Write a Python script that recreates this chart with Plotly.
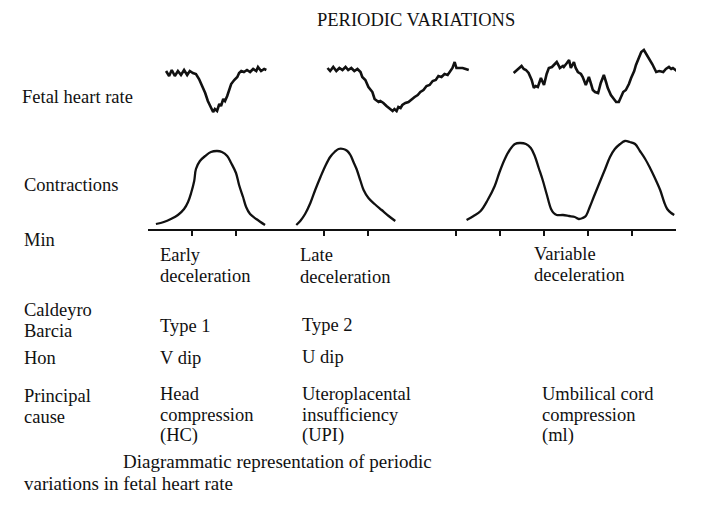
import plotly.graph_objects as go

# ---- data: time in minutes, fetal heart rate in bpm, contraction pressure (relative) ----
early_t = [0.41, 0.48, 0.54, 0.61, 0.68, 0.75, 0.82, 0.89, 0.95, 1.02, 1.09, 1.16, 1.23, 1.30,
           1.36, 1.43, 1.48, 1.52, 1.57, 1.62, 1.66, 1.71, 1.75, 1.80, 1.84, 1.89, 1.96, 2.03,
           2.07, 2.12, 2.18, 2.25, 2.32, 2.39, 2.46, 2.50, 2.57, 2.64, 2.69]
early_fhr = [139, 134, 140, 134, 139, 135, 140, 135, 139, 137, 136, 131, 124, 117,
             109, 102, 98, 101, 99, 106, 104, 111, 109, 114, 120, 126, 130, 133,
             137, 139, 138, 140, 138, 141, 139, 143, 139, 141, 140]

late_t = [4.08, 4.14, 4.21, 4.28, 4.35, 4.42, 4.49, 4.55, 4.62, 4.69, 4.76, 4.83, 4.87, 4.94,
          5.01, 5.06, 5.10, 5.15, 5.19, 5.24, 5.28, 5.35, 5.42, 5.47, 5.51, 5.56, 5.60, 5.65,
          5.69, 5.74, 5.78, 5.85, 5.92, 5.99, 6.06, 6.13, 6.19, 6.26, 6.33, 6.40, 6.47, 6.54,
          6.60, 6.67, 6.74, 6.81, 6.88, 6.92, 6.97, 7.01, 7.08, 7.15, 7.22, 7.29]
late_fhr = [142, 139, 143, 139, 142, 140, 143, 140, 142, 139, 141, 138, 133, 130,
            123, 120, 118, 111, 110, 108, 109, 107, 104, 102, 101, 99, 101, 99,
            103, 102, 105, 107, 108, 111, 113, 115, 118, 120, 124, 125, 129, 130,
            134, 133, 136, 135, 139, 142, 148, 142, 142, 142, 141, 140]

variable_t = [8.31, 8.38, 8.43, 8.49, 8.54, 8.59, 8.65, 8.72, 8.77, 8.81, 8.86, 8.93, 8.97, 9.00,
              9.06, 9.11, 9.18, 9.25, 9.29, 9.34, 9.36, 9.43, 9.45, 9.52, 9.57, 9.61, 9.66, 9.68,
              9.72, 9.77, 9.84, 9.88, 9.95, 10.02, 10.07, 10.11, 10.16, 10.23, 10.29, 10.36, 10.41,
              10.45, 10.52, 10.57, 10.64, 10.70, 10.75, 10.80, 10.86, 10.93, 10.98, 11.05, 11.09,
              11.16, 11.21, 11.27, 11.34, 11.39, 11.46, 11.55, 11.62, 11.71, 11.77, 11.84, 11.89,
              11.93, 12.05]
variable_fhr = [137, 140, 142, 144, 141, 140, 137, 130, 122, 124, 123, 132, 128, 125,
                136, 142, 143, 146, 148, 144, 142, 144, 143, 147, 150, 142, 146, 148,
                142, 138, 136, 133, 125, 133, 126, 120, 118, 117, 127, 135, 128,
                122, 115, 112, 108, 108, 114, 118, 120, 126, 132, 139, 145,
                153, 158, 160, 155, 152, 146, 138, 139, 138, 141, 143, 141,
                142, 138]

c1_t = [0.18, 0.36, 0.52, 0.68, 0.82, 0.91, 0.98, 1.05, 1.09, 1.18, 1.30, 1.43, 1.57, 1.68,
        1.80, 1.89, 2.00, 2.07, 2.16, 2.23, 2.32, 2.46, 2.66]
c1_p = [5, 7, 10, 14, 20, 27, 36, 48, 60, 68, 73, 77, 78, 77,
        73, 66, 56, 44, 32, 22, 15, 10, 4]

c2_t = [3.37, 3.46, 3.57, 3.69, 3.80, 3.92, 4.03, 4.14, 4.24, 4.33, 4.44, 4.53, 4.60, 4.67,
        4.74, 4.83, 4.90, 5.01, 5.15, 5.31, 5.47, 5.62]
c2_p = [4, 8, 15, 26, 39, 52, 63, 72, 77, 80, 80, 78, 74, 67,
        60, 48, 39, 31, 25, 19, 13, 8]

c3_t = [7.24, 7.40, 7.56, 7.72, 7.88, 7.99, 8.11, 8.22, 8.34, 8.45, 8.59, 8.70, 8.79, 8.88,
        8.97, 9.06, 9.16, 9.22, 9.29, 9.43, 9.57, 9.70, 9.79, 9.88, 9.95, 10.04, 10.13, 10.25,
        10.39, 10.50, 10.61, 10.73, 10.84, 10.95, 11.07, 11.18, 11.30, 11.41, 11.52, 11.64,
        11.73, 11.80, 11.89, 11.96]
c3_p = [9, 13, 18, 29, 43, 57, 70, 79, 85, 86, 85, 81, 73, 61,
        49, 35, 20, 16, 14, 14, 13, 12, 10, 11, 13, 22, 32, 45,
        60, 72, 80, 85, 88, 87, 85, 78, 70, 61, 51, 39,
        27, 20, 16, 14]

minute_ticks = [1, 2, 4, 5, 7, 8, 9, 10, 11]
time_range = [0, 12]

title_text = "PERIODIC VARIATIONS"
row_labels = ["Fetal heart rate", "Contractions", "Min", "Caldeyro", "Barcia", "Hon",
              "Principal", "cause"]
early_labels = ["Early", "deceleration", "Type 1", "V dip", "Head", "compression", "(HC)"]
late_labels = ["Late", "deceleration", "Type 2", "U dip", "Uteroplacental", "insufficiency", "(UPI)"]
variable_labels = ["Variable", "deceleration", "Umbilical cord", "compression", "(ml)"]
caption = ["Diagrammatic representation of periodic", "variations in fetal heart rate"]

# the page body keeps its default 8px margin, so the figure is drawn 8px in
OFF = 8
W, H = 708 - OFF, 506 - OFF
INK = "#111111"
FONT = "Liberation Serif"
SIZE = 18.5

fig = go.Figure()

for t, v in [(early_t, early_fhr), (late_t, late_fhr), (variable_t, variable_fhr)]:
    fig.add_trace(go.Scatter(x=t, y=v, mode="lines", xaxis="x", yaxis="y",
                             line=dict(color=INK, width=2.6), hoverinfo="skip"))

for t, v in [(c1_t, c1_p), (c2_t, c2_p), (c3_t, c3_p)]:
    fig.add_trace(go.Scatter(x=t, y=v, mode="lines", xaxis="x", yaxis="y2",
                             line=dict(color=INK, width=2.3, shape="spline"), hoverinfo="skip"))


def px(x):
    return (x - OFF) / W


def py(y):
    return 1 - (y - OFF) / H


annos = []


def label(text, x, y, size=SIZE, anchor="left"):
    annos.append(dict(text=text, x=px(x), y=py(y), xref="paper", yref="paper",
                      xanchor=anchor, yanchor="middle", showarrow=False,
                      font=dict(family=FONT, size=size, color=INK)))


label(title_text, 416, 20, size=18.5, anchor="center")

row_pos = [(20, 97), (22, 185), (22, 240), (22, 309.5), (22, 330.5), (22, 358),
           (22, 395.5), (22, 416.5)]
for txt, (x, y) in zip(row_labels, row_pos):
    label(txt, x, y)

early_pos = [(158, 255), (158, 276), (158, 326), (158, 358), (158, 393.5), (158, 414.5), (158, 435.5)]
for txt, (x, y) in zip(early_labels, early_pos):
    label(txt, x, y)

late_pos = [(298, 255.5), (298, 276.5), (300, 325), (300, 357), (300, 393.5), (300, 414.5),
            (300, 435.5)]
for txt, (x, y) in zip(late_labels, late_pos):
    label(txt, x, y)

var_pos = [(532, 254), (532, 275), (540, 393.5), (540, 414.5), (540, 435.5)]
for txt, (x, y) in zip(variable_labels, var_pos):
    label(txt, x, y)

label(caption[0], 121, 461, size=19)
label(caption[1], 22, 483, size=19)

fig.update_layout(
    width=W, height=H, autosize=False,
    margin=dict(l=0, r=0, t=0, b=0),
    paper_bgcolor="white", plot_bgcolor="white",
    showlegend=False,
    annotations=annos,
    xaxis=dict(domain=[px(148), px(676)], range=time_range, anchor="y2",
               showgrid=False, zeroline=False, showticklabels=False,
               showline=True, linecolor=INK, linewidth=2,
               tickvals=minute_ticks, ticks="outside", ticklen=5, tickwidth=1.5, tickcolor=INK),
    yaxis=dict(domain=[py(120), py(40)], range=[90, 170], visible=False),
    yaxis2=dict(domain=[py(229), py(129)], range=[0, 100], visible=False),
)

fig.write_html("out.html")
